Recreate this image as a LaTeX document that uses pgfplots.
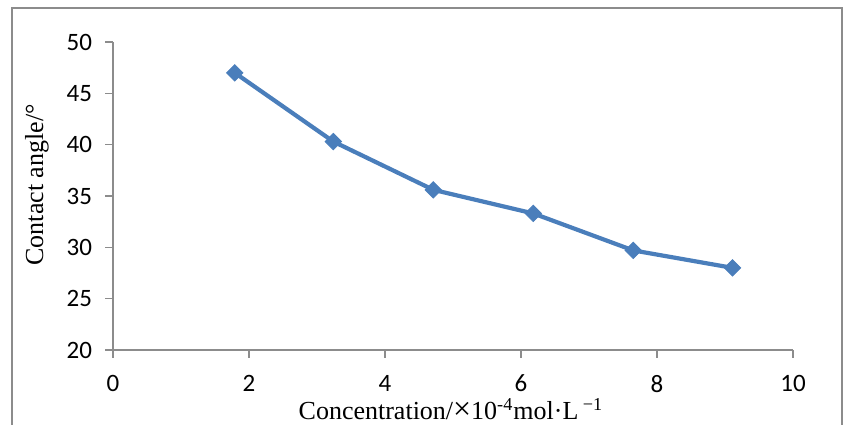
\documentclass[border=0pt]{standalone}
\usepackage{pgfplots}
\pgfplotsset{compat=1.18}
\usepackage{fontspec}
\setmainfont{Liberation Serif}
\newfontfamily\carlito{Carlito}
\definecolor{serblue}{HTML}{4A7EBB}
\definecolor{axgray}{HTML}{8C8C8C}
\begin{document}
\begin{tikzpicture}
\begin{axis}[
    scale only axis,
    width=340pt, height=154pt,
    xmin=0, xmax=10, ymin=20, ymax=50,
    xtick={0,2,...,10}, ytick={20,25,...,50},
    separate axis lines,
    axis x line*=bottom, axis y line*=left,
    axis line style={draw=axgray, line width=0.8pt, -},
    tick style={draw=axgray, line width=0.8pt},
    tick align=outside, major tick length=4pt,
    /pgf/number format/assume math mode=true,
    ticklabel style={font=\carlito\fontsize{12.5}{14}\selectfont},
    yticklabel style={xshift=-3pt},
    xticklabel style={yshift=-5pt},
    xlabel={Concentration/{\fontsize{16}{15}\selectfont ×}10\textsuperscript{-4}mol·L\textsuperscript{ −1}},
    ylabel={Contact angle/°},
    label style={font=\fontsize{13}{15}\selectfont},
    xlabel style={at={(axis description cs:0.497,-0.192)}, anchor=center, inner sep=1pt},
    ylabel style={at={(axis description cs:-0.112,0.536)}, anchor=center},
    clip=false,
]
\addplot[color=serblue, line width=2.1pt, mark=square*, mark size=2.9pt,
    mark options={fill=serblue, draw=serblue, line width=0.4pt, rotate=45}]
    coordinates {(1.79,47.0) (3.24,40.3) (4.71,35.6) (6.18,33.3) (7.65,29.7) (9.11,28.0)};
% picture edge and outer frame
\coordinate (bbsw) at (axis cs:-1.662,12.70);
\coordinate (bbne) at (axis cs:10.735,54.09);
\draw[axgray, line width=0.9pt] (axis cs:-1.485,11.5) rectangle (axis cs:10.72,53.31);
\end{axis}
\pgfresetboundingbox
\useasboundingbox (bbsw) rectangle (bbne);
\end{tikzpicture}
\end{document}
